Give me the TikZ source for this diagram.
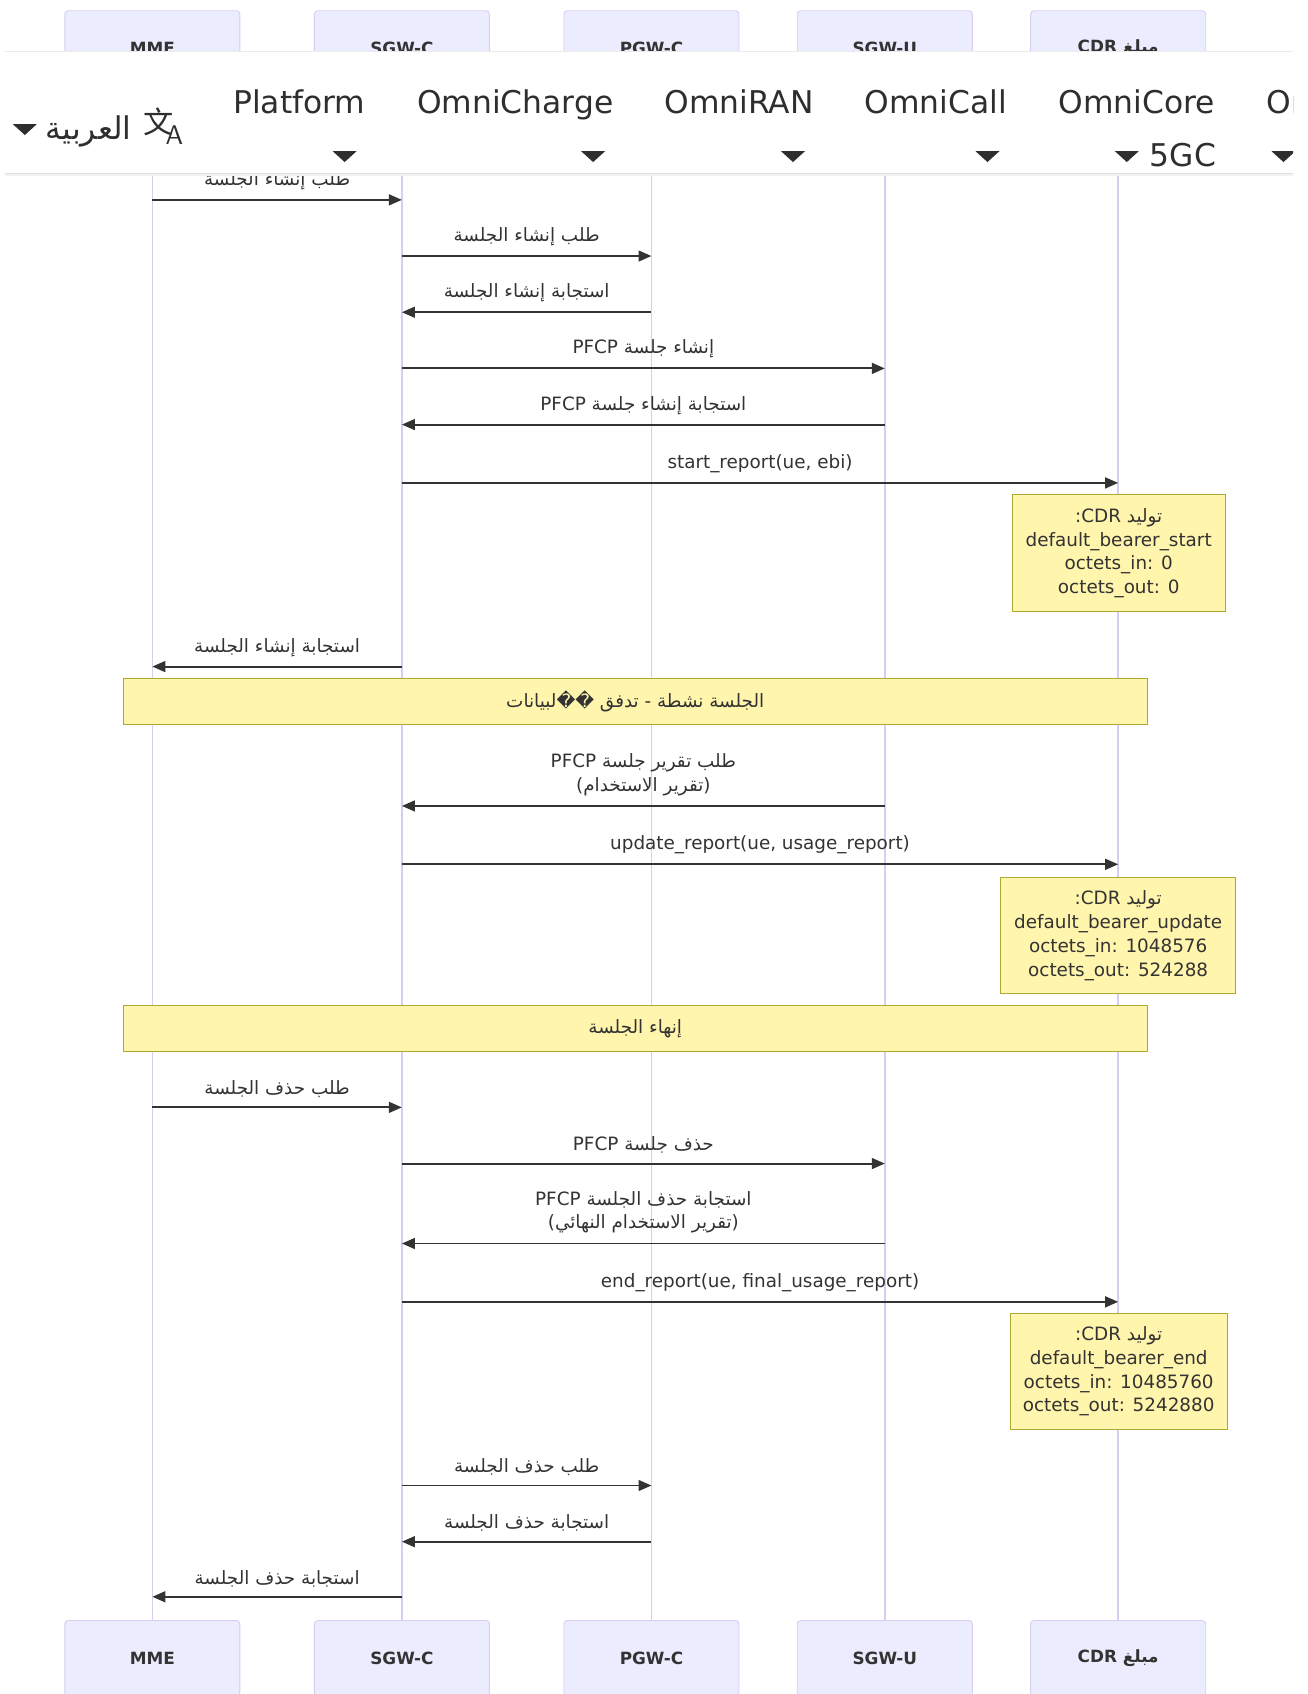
\documentclass[tikz,border=0pt]{standalone}
\usepackage{fontspec}
\setmainfont{DejaVu Sans}
\newfontfamily\arabicfont[Script=Arabic]{DejaVu Sans}
\newfontfamily\cjk{Noto Sans CJK SC}
\TeXXeTstate=1
\usetikzlibrary{arrows.meta}
\definecolor{actorfill}{HTML}{ECECFF}
\definecolor{actorline}{HTML}{D6CDF2}
\definecolor{msgcol}{HTML}{333333}
\definecolor{notefill}{HTML}{FFF5AD}
\definecolor{noteline}{HTML}{AAAA33}
\definecolor{menucol}{HTML}{2E2E2E}
\newcommand{\ar}[1]{{\arabicfont\beginR #1\endR}}
\tikzset{
  actor/.style={draw=actorline, fill=actorfill, rounded corners=1.5pt, minimum width=81pt,
    minimum height=35pt, text=msgcol, font=\bfseries\fontsize{7.8}{10}\selectfont},
  life/.style={draw=actorline, line width=0.7pt},
  msg/.style={draw=msgcol, line width=0.9pt, -{Triangle[length=6pt,width=5pt]}},
  lbl/.style={above=3.2pt, inner sep=1pt, text=msgcol, align=center, font=\fontsize{8.5}{11}\selectfont},
  note/.style={draw=noteline, fill=notefill, line width=0.5pt, inner sep=0pt, text=msgcol,
    align=center, font=\fontsize{8.5}{11}\selectfont},
  menu/.style={inner sep=0pt, anchor=base, text=menucol, font=\fontsize{14.5}{17}\selectfont}
}
\begin{document}
\begin{tikzpicture}[x=0.5pt, y=-0.5pt]
  \useasboundingbox (0,0) rectangle (1210,1568);
  % participants
  \node[actor] (mmeT) at (141,45) {MME};
  \node[actor] (sgwcT) at (372,45) {SGW-C};
  \node[actor] (pgwcT) at (603,45) {PGW-C};
  \node[actor] (sgwuT) at (819,45) {SGW-U};
  \node[actor] (cdrT) at (1035,45) {\ar{مبلغ \beginL CDR\endL}};
  \node[actor] (mmeB) at (141,1535) {MME};
  \node[actor] (sgwcB) at (372,1535) {SGW-C};
  \node[actor] (pgwcB) at (603,1535) {PGW-C};
  \node[actor] (sgwuB) at (819,1535) {SGW-U};
  \node[actor] (cdrB) at (1035,1535) {\ar{مبلغ \beginL CDR\endL}};
  \begin{scope}[life]
    \draw (mmeT) -- (mmeB);
    \draw (sgwcT) -- (sgwcB);
    \draw (pgwcT) -- (pgwcB);
    \draw (sgwuT) -- (sgwuB);
    \draw (cdrT) -- (cdrB);
  \end{scope}
  % messages
  \begin{scope}[msg]
    \draw (mmeT |- 0,185) -- node[lbl] {\ar{طلب إنشاء الجلسة}} (sgwcT |- 0,185);
    \draw (sgwcT |- 0,237) -- node[lbl] {\ar{طلب إنشاء الجلسة}} (pgwcT |- 0,237);
    \draw (pgwcT |- 0,289) -- node[lbl] {\ar{استجابة إنشاء الجلسة}} (sgwcT |- 0,289);
    \draw (sgwcT |- 0,341) -- node[lbl] {\ar{إنشاء جلسة \beginL PFCP\endL}} (sgwuT |- 0,341);
    \draw (sgwuT |- 0,393) -- node[lbl] {\ar{استجابة إنشاء جلسة \beginL PFCP\endL}} (sgwcT |- 0,393);
    \draw (sgwcT |- 0,447) -- node[lbl] {start\_report(ue, ebi)} (cdrT |- 0,447);
    \draw (sgwcT |- 0,617) -- node[lbl] {\ar{استجابة إنشاء الجلسة}} (mmeT |- 0,617);
    \draw (sgwuT |- 0,746) -- node[lbl] {\ar{طلب تقرير جلسة \beginL PFCP\endL}\\\ar{(تقرير الاستخدام)}} (sgwcT |- 0,746);
    \draw (sgwcT |- 0,800) -- node[lbl] {update\_report(ue, usage\_report)} (cdrT |- 0,800);
    \draw (mmeT |- 0,1025) -- node[lbl] {\ar{طلب حذف الجلسة}} (sgwcT |- 0,1025);
    \draw (sgwcT |- 0,1077) -- node[lbl] {\ar{حذف جلسة \beginL PFCP\endL}} (sgwuT |- 0,1077);
    \draw (sgwuT |- 0,1151) -- node[lbl] {\ar{استجابة حذف الجلسة \beginL PFCP\endL}\\\ar{(تقرير الاستخدام النهائي)}} (sgwcT |- 0,1151);
    \draw (sgwcT |- 0,1205) -- node[lbl] {end\_report(ue, final\_usage\_report)} (cdrT |- 0,1205);
    \draw (sgwcT |- 0,1375) -- node[lbl] {\ar{طلب حذف الجلسة}} (pgwcT |- 0,1375);
    \draw (pgwcT |- 0,1427) -- node[lbl] {\ar{استجابة حذف الجلسة}} (sgwcT |- 0,1427);
    \draw (sgwcT |- 0,1478) -- node[lbl] {\ar{استجابة حذف الجلسة}} (mmeT |- 0,1478);
  \end{scope}
  % notes
  \node[note, minimum width=98.5pt, minimum height=54pt] (cdrstart) at (1035.5,512)
    {\ar{توليد \beginL CDR\endL:}\\default\_bearer\_start\\octets\_in: 0\\octets\_out: 0};
  \node[note, minimum width=109pt, minimum height=54pt] (cdrupdate) at (1035,866)
    {\ar{توليد \beginL CDR\endL:}\\default\_bearer\_update\\octets\_in: 1048576\\octets\_out: 524288};
  \node[note, minimum width=100.5pt, minimum height=53.5pt] (cdrend) at (1035.5,1269.5)
    {\ar{توليد \beginL CDR\endL:}\\default\_bearer\_end\\octets\_in: 10485760\\octets\_out: 5242880};
  \node[note, minimum width=474pt, minimum height=21.5pt] (active) at (588,649.5)
    {\ar{الجلسة نشطة - تدفق ��لبيانات}};
  \node[note, minimum width=474pt, minimum height=21pt] (teardown) at (588,952)
    {\ar{إنهاء الجلسة}};
  % menu bar laid over the top
  \fill[white] (5,48) rectangle (1197,160);
  \draw[black!8, line width=0.5pt] (5,48) -- (1197,48);
  \draw[black!12, line width=0.6pt] (5,160.5) -- (1197,160.5);
  \draw[black!5, line width=0.6pt] (5,162) -- (1197,162);
  \begin{scope}
    \clip (5,48) rectangle (1197,160);
    \fill[menucol] (12,115) -- (34,115) -- (23,125) -- cycle;
    \node[menu] (lang) at (82,129) {\ar{العربية}};
    \node[menu, anchor=center] (langicon) at (151,117) {\cjk\fontsize{14}{14}\selectfont 文\kern-3.5pt\raisebox{-5pt}{\sffamily\fontsize{12.5}{12}\selectfont A}};
    \node[menu] (platform) at (277,105.5) {Platform};
    \node[menu] (charge) at (477,105.5) {OmniCharge};
    \node[menu] (ran) at (684,105.5) {OmniRAN};
    \node[menu] (call) at (866,105.5) {OmniCall};
    \node[menu] (core) at (1052,105.5) {OmniCore};
    \node[menu, anchor=base west] (more) at (1172,105.5) {Omni};
    \node[menu] (fivegc) at (1095,154) {5GC};
    \fill[menucol] (308,140) -- (330,140) -- (319,150) -- cycle;
    \fill[menucol] (538,140) -- (560,140) -- (549,150) -- cycle;
    \fill[menucol] (723,140) -- (745,140) -- (734,150) -- cycle;
    \fill[menucol] (903,140) -- (925,140) -- (914,150) -- cycle;
    \fill[menucol] (1032,140) -- (1054,140) -- (1043,150) -- cycle;
    \fill[menucol] (1177,140) -- (1199,140) -- (1188,150) -- cycle;
  \end{scope}
\end{tikzpicture}
\end{document}
